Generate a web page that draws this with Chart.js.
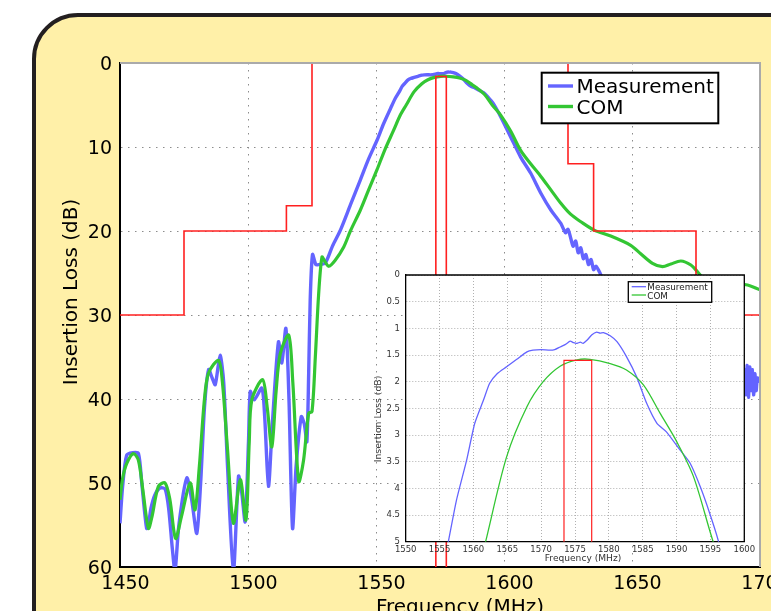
<!DOCTYPE html>
<html><head><meta charset="utf-8">
<script src="https://cdn.jsdelivr.net/npm/chart.js@4.4.1/dist/chart.umd.min.js"></script>
<style>
html,body{margin:0;padding:0;background:#fff;width:771px;height:611px;overflow:hidden;position:relative;}
#bg{position:absolute;left:32px;top:13px;width:800px;height:700px;box-sizing:border-box;border:4px solid #231f20;border-radius:46px;background:#fff0a8;}
canvas{position:absolute;}
#main{left:0;top:0;}
#inset{left:360px;top:265px;}
</style></head><body>
<div id="bg"></div>
<canvas id="main" width="771" height="611"></canvas>
<canvas id="inset" width="400" height="305"></canvas>
<script>
// ---------------- data ----------------
const measFreq = [1450,1451,1452.6,1455,1457.2,1458.5,1460.4,1461.3,1462.1,1463.5,1465.6,1467.6,1469,1470.5,1471.5,1473,1476.1,1478,1480,1481.5,1483,1484.6,1486,1487.2,1489.1,1490.5,1492,1494.3,1496.3,1497.5,1498.9,1500.2,1500.9,1502.4,1505.4,1506.5,1508,1509.5,1511.9,1513.2,1514.8,1516,1517.4,1518.8,1520.8,1522,1523,1523.7,1524.3,1525.2,1526.5,1527.6,1530.2,1533,1536.1,1540,1543.9,1547,1550.4,1553,1556.3,1557.5,1559,1560.2,1561.5,1562.4,1563.5,1564.9,1566.4,1567.9,1568.8,1570,1571.3,1572,1572.8,1573.6,1574.3,1574.8,1575.3,1575.8,1576.2,1576.8,1577.5,1578.2,1578.7,1579.2,1580.2,1581.2,1582.6,1584.1,1585.6,1587.1,1588.5,1590.5,1592,1593.5,1594.9,1596.2,1598.7,1602.6,1606.5,1610.4,1614.4,1618.3,1622.2,1624,1625,1626.1,1627,1628,1629,1630,1631,1632,1633,1634,1635,1636,1637.8,1640,1645,1650,1655,1660,1665,1670,1675,1680,1685,1690,1694,1694.5,1695,1695.5,1696,1696.5,1697,1697.5,1698,1698.5,1699,1700];
const measLoss = [54.8,50.5,46.7,46.4,46.5,50,55.4,54.5,53,51.5,50.6,50.7,53,58,60.5,55,49.4,52,56,50,41,36.5,37.5,38.3,34.8,38,48,60.5,49.2,51,54.6,45,39.1,40.1,38.7,42,50.4,43,33.2,35.7,31.6,40,55.4,48,42.1,43,45.1,37,28.2,22.8,24,24.0,23.8,21.8,19.9,16.9,13.9,11.5,9.2,7.2,5.0,4.22,3.47,2.78,2.34,2.03,1.85,1.72,1.58,1.44,1.41,1.40,1.41,1.40,1.35,1.30,1.24,1.27,1.28,1.26,1.28,1.22,1.12,1.07,1.09,1.08,1.14,1.25,1.53,1.91,2.41,2.78,2.94,3.28,3.53,3.97,4.47,5.0,6.4,8.8,11.2,13.1,15.5,17.5,19.1,20.2,19.8,20.9,21.8,21.2,22.6,22.0,23.3,22.8,24.0,23.4,24.6,24.2,25.2,26.5,29,31,33,34.5,35.5,36.5,37,37.5,37.5,38,36.5,39.5,36,39.8,36.2,39,36.5,39.5,37,39,37.5,38];

const comFreq = [1450,1451,1452.6,1455.2,1457.2,1459,1461.1,1462.5,1465,1467.6,1469.5,1471.7,1474,1477.4,1479.3,1481,1483,1484.6,1488.5,1490,1492,1494.3,1497,1499.2,1500.5,1501.5,1505.7,1507.5,1509.3,1511,1512.6,1515.9,1517.5,1519.8,1521.7,1523.7,1525,1526.3,1527.6,1528.9,1530,1531.5,1534,1537.4,1540,1543.9,1547,1550.4,1553.5,1556.9,1559.5,1561.8,1564.9,1567.9,1570.3,1572.8,1575.3,1577.2,1580.2,1582.6,1585.1,1587.6,1590,1592.5,1595.4,1598.7,1602.6,1606.5,1610.4,1614.4,1618.3,1622.2,1626,1630,1635.2,1641.7,1649.5,1653.4,1658,1661.9,1665.2,1669.1,1673,1675.6,1678.9,1685,1690,1694.5,1700];
const comLoss = [52,49.5,47.7,46.5,47.3,51,55.4,54,50.4,50,52,56.6,54,50,53.2,48,40,36.9,35.4,38,46,54.8,49.6,54.4,45,40.1,37.7,41,45.7,39,34.6,32.4,38,49.8,47.3,41.7,41.5,35,27.5,23.1,23.6,24.2,23.5,21.9,20,17.5,15.2,12.7,10.3,8.0,6.2,5.0,3.41,2.47,2.0,1.71,1.59,1.58,1.66,1.78,2.06,2.6,3.12,3.78,5.0,6.2,8.1,10.4,12.0,13.5,15.1,16.7,18.0,18.9,19.9,20.6,21.7,22.7,23.85,24.25,23.93,23.57,24.05,24.85,26.0,26.8,26.6,26.4,27.0];

const maskFreq = [1450,1475,1475,1515,1515,1525,1525,1625,1625,1635,1635,1675,1675,1700];
const maskLoss = [30,30,20,20,17,17,0,0,12,12,20,20,30,30];

const gpsFreq = [1573.374,1573.374,1577.466,1577.466];
const gpsLoss = [60,1.6,1.6,60];

const mainFreqTicks = [1450,1500,1550,1600,1650,1700];
const mainLossTicks = [0,10,20,30,40,50,60];
const insetFreqTicks = [1550,1555,1560,1565,1570,1575,1580,1585,1590,1595,1600];
const insetLossTicks = [0,0.5,1,1.5,2,2.5,3,3.5,4,4.5,5];

const seriesNames = ['Measurement','COM'];
const xTitle = 'Frequency (MHz)';
const yTitle = 'Insertion Loss (dB)';

// ---------------- helpers ----------------
const pts = (xs, ys) => xs.map((x, i) => ({x, y: ys[i]}));
const FONT = 'DejaVu Sans';
const BLUE = '#6464ff', GREEN = '#33c633', RED = '#ff2020';
const noPadX = h => s => { s.height = h; s.paddingLeft = 0; s.paddingRight = 0; };
const noPadY = w => s => { s.width = w; s.paddingTop = 0; s.paddingBottom = 0; };

const panelPlugin = {
  id: 'panel',
  beforeDraw(chart, args, o) {
    const {ctx, chartArea: a} = chart;
    ctx.save(); ctx.fillStyle = '#ffffff';
    ctx.fillRect(a.left, a.top, a.right - a.left, a.bottom - a.top); ctx.restore();
  },
  afterDatasetsDraw(chart, args, o) {
    const {ctx, chartArea: a} = chart;
    ctx.save();
    if (o.frame) {
      ctx.strokeStyle = o.frame.color; ctx.lineWidth = o.frame.width;
      ctx.beginPath();
      ctx.moveTo(a.left, a.top); ctx.lineTo(a.right, a.top); ctx.lineTo(a.right, a.bottom);
      ctx.stroke();
    }
    const L = o.legend;
    if (L) {
      ctx.fillStyle = '#fff'; ctx.fillRect(L.x, L.y, L.w, L.h);
      ctx.strokeStyle = '#000'; ctx.lineWidth = L.border; ctx.strokeRect(L.x, L.y, L.w, L.h);
      ctx.font = L.font; ctx.textBaseline = 'middle'; ctx.textAlign = 'left';
      L.items.forEach((idx, i) => {
        const ds = chart.data.datasets[idx];
        ctx.strokeStyle = ds.borderColor; ctx.lineWidth = L.lw;
        ctx.beginPath(); ctx.moveTo(L.x1, L.lineY[i]); ctx.lineTo(L.x2, L.lineY[i]); ctx.stroke();
        ctx.fillStyle = L.color; ctx.fillText(ds.label, L.tx, L.textY[i]);
      });
    }
    (o.titles || []).forEach(t => {
      ctx.save(); ctx.translate(t.x, t.y); ctx.rotate(t.rot || 0);
      ctx.font = t.font; ctx.fillStyle = t.color; ctx.textAlign = 'center';
      ctx.textBaseline = t.baseline || 'middle'; ctx.fillText(t.text, 0, 0); ctx.restore();
    });
    ctx.restore();
  }
};

// ---------------- main chart ----------------
new Chart(document.getElementById('main'), {
  type: 'line',
  data: { datasets: [
    { label: 'mask', data: pts(maskFreq, maskLoss), borderColor: RED, borderWidth: 1.6, tension: 0, pointRadius: 0, clip: 2, order: 0 },
    { label: 'gps', data: pts(gpsFreq, gpsLoss), borderColor: RED, borderWidth: 1.6, tension: 0, pointRadius: 0, clip: 2, order: 0 },
    { label: seriesNames[1], data: pts(comFreq, comLoss), borderColor: GREEN, borderWidth: 3.2, tension: 0.3, pointRadius: 0, order: 1 },
    { label: seriesNames[0], data: pts(measFreq, measLoss), borderColor: BLUE, borderWidth: 3.4, tension: 0.25, pointRadius: 0, order: 2 }
  ]},
  options: {
    responsive: false, animation: false, devicePixelRatio: 1,
    layout: { autoPadding: false, padding: { top: 63, right: 11, bottom: 0, left: 0 } },
    plugins: {
      legend: { display: false }, tooltip: { enabled: false },
      panel: {
        frame: { color: '#aaaaaa', width: 2 },
        legend: { x: 541.7, y: 72.7, w: 176.6, h: 50.6, border: 2, font: '20px "' + FONT + '"', color: '#000',
                  items: [3, 2], lineY: [86, 106.5], textY: [88.2, 108.6], x1: 548, x2: 573, tx: 576.5, lw: 3.4 },
        titles: [
          { text: yTitle, x: 72, y: 292, rot: -Math.PI / 2, font: '20px "' + FONT + '"', color: '#000' },
          { text: xTitle, x: 460, y: 613, font: '20px "' + FONT + '"', color: '#000', baseline: 'alphabetic' }
        ]
      }
    },
    scales: {
      x: { type: 'linear', min: 1450, max: 1700,
        afterFit: noPadX(44),
        afterBuildTicks: s => { s.ticks = mainFreqTicks.map(v => ({ value: v })); },
        ticks: { callback: v => String(v), font: { family: FONT, size: 19 }, color: '#000', padding: 6, labelOffset: 5.5, maxRotation: 0, autoSkip: false },
        grid: { color: '#8c8c8c', lineWidth: 1, drawTicks: false },
        border: { color: '#000', width: 2, dash: [1.5, 5.5] }
      },
      y: { type: 'linear', min: 0, max: 60, reverse: true,
        afterFit: noPadY(120),
        afterBuildTicks: s => { s.ticks = mainLossTicks.map(v => ({ value: v })); },
        ticks: { callback: v => String(v), font: { family: FONT, size: 19 }, color: '#000', padding: 8, labelOffset: 2.4, autoSkip: false },
        grid: { color: '#8c8c8c', lineWidth: 1, drawTicks: false },
        border: { color: '#000', width: 2, dash: [1.5, 5.5] }
      }
    }
  },
  plugins: [panelPlugin]
});

// ---------------- inset chart ----------------
const OX = 360, OY = 265;
new Chart(document.getElementById('inset'), {
  type: 'line',
  data: { datasets: [
    { label: 'gps', data: pts(gpsFreq, gpsLoss), borderColor: RED, borderWidth: 1.2, tension: 0, pointRadius: 0, order: 0 },
    { label: seriesNames[1], data: pts(comFreq, comLoss), borderColor: GREEN, borderWidth: 1.3, tension: 0.3, pointRadius: 0, order: 1 },
    { label: seriesNames[0], data: pts(measFreq, measLoss), borderColor: BLUE, borderWidth: 1.3, tension: 0.2, pointRadius: 0, order: 2 }
  ]},
  options: {
    responsive: false, animation: false, devicePixelRatio: 1,
    layout: { autoPadding: false, padding: { top: 10, right: 15.7, bottom: 0, left: 0 } },
    plugins: {
      legend: { display: false }, tooltip: { enabled: false },
      panel: {
        frame: { color: '#000', width: 1.3 },
        legend: { x: 628.3 - OX, y: 281.7 - OY, w: 83.4, h: 20.6, border: 1.3, font: '8.8px "' + FONT + '"', color: '#222',
                  items: [2, 1], lineY: [286.7 - OY, 295 - OY], textY: [287.9 - OY, 296.3 - OY], x1: 631.7 - OX, x2: 646 - OX, tx: 647.3 - OX, lw: 1.3 },
        titles: [
          { text: yTitle, x: 378.3 - OX, y: 419 - OY, rot: -Math.PI / 2, font: '9.3px "' + FONT + '"', color: '#333' },
          { text: xTitle, x: 583 - OX, y: 559 - OY, font: '9.1px "' + FONT + '"', color: '#333' }
        ]
      }
    },
    scales: {
      x: { type: 'linear', min: 1550, max: 1600,
        afterFit: noPadX(28.3),
        afterBuildTicks: s => { s.ticks = insetFreqTicks.map(v => ({ value: v })); },
        ticks: { callback: v => String(v), font: { family: FONT, size: 8.5 }, color: '#333', padding: 3, maxRotation: 0, autoSkip: false },
        grid: { color: '#b0b0b0', lineWidth: 1, drawTicks: false },
        border: { color: '#000', width: 1.3, dash: [1, 2] }
      },
      y: { type: 'linear', min: 0, max: 5, reverse: true,
        afterFit: noPadY(45.7),
        afterBuildTicks: s => { s.ticks = insetLossTicks.map(v => ({ value: v })); },
        ticks: { callback: v => String(v), font: { family: FONT, size: 8.5 }, color: '#333', padding: 5.7, autoSkip: false },
        grid: { color: '#b0b0b0', lineWidth: 1, drawTicks: false },
        border: { color: '#000', width: 1.3, dash: [1, 2] }
      }
    }
  },
  plugins: [panelPlugin]
});
</script>
</body></html>
